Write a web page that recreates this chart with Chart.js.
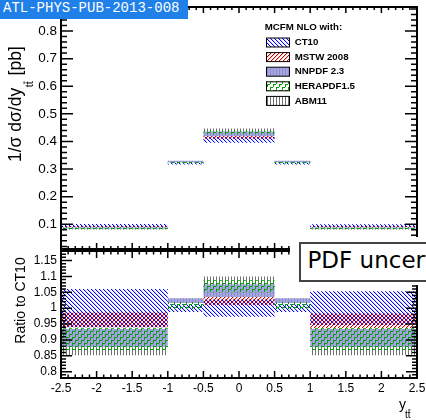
<!DOCTYPE html>
<html>
<head>
<meta charset="utf-8">
<script src="https://cdn.jsdelivr.net/npm/chart.js@4.4.0/dist/chart.umd.min.js"></script>
<style>
body { margin: 0; width: 426px; height: 420px; overflow: hidden; background: #fff; position: relative; }
canvas { position: absolute; left: 0; }
#top { top: 0; }
#ratio { top: 250px; }
#tag { position: absolute; left: 0; top: 0; width: 188px; height: 19px; background: #1f80ea; color: #fff;
       font-family: "Liberation Mono", monospace; font-size: 14px; }
#tag span { position: absolute; left: 3px; top: 1.3px; line-height: 14px; white-space: nowrap; }
#notepad { position: absolute; left: 290px; top: 237px; width: 140px; height: 48px; background: #fff; }
#note { position: absolute; left: 9px; top: 4.5px; width: 300px; height: 33.4px; border: 2px solid #444;
        background: #fff; font-family: "DejaVu Sans", sans-serif; font-size: 23px; line-height: 27px;
        padding: 3.4px 0 0 6.5px; white-space: nowrap; }
</style>
</head>
<body>
<canvas id="top" width="426" height="250"></canvas>
<canvas id="ratio" width="426" height="170"></canvas>
<div id="tag"><span>ATL-PHYS-PUB-2013-008</span></div>
<div id="notepad"><div id="note">PDF uncertainty</div></div>
<script>
// rapidity bins of the ttbar system
let binEdges = [-2.5, -1, -0.5, 0.5, 1, 2.5];
// normalised CT10 cross section per bin
let ct10Xsec = [0.095, 0.32, 0.406, 0.32, 0.095];

// PDF bands as ratio to CT10 (lower / upper edge per bin)
let ct10Lo = [0.94, 0.988, 0.973, 0.988, 0.947];
let ct10Hi = [1.06, 1.012, 1.027, 1.012, 1.053];
let mstwLo = [0.94, 1.018, 1.01, 1.018, 0.937];
let mstwHi = [0.986, 1.029, 1.035, 1.029, 0.983];
let nnpdfLo = [0.878, 1.016, 1.035, 1.016, 0.878];
let nnpdfHi = [0.934, 1.031, 1.075, 1.031, 0.934];
let heraLo = [0.868, 0.997, 1.05, 0.997, 0.868];
let heraHi = [0.937, 1.019, 1.088, 1.019, 0.937];
let abmLo = [0.852, 1.018, 1.04, 1.018, 0.852];
let abmHi = [0.925, 1.03, 1.1, 1.03, 0.925];

let pdfNames = ["CT10", "MSTW 2008", "NNPDF 2.3", "HERAPDF1.5", "ABM11"];

Chart.defaults.font.family = '"Liberation Sans", Arial, sans-serif';
Chart.defaults.color = '#000';

function makePattern(w, h, draw) {
    let c = document.createElement('canvas');
    c.width = w;
    c.height = h;
    let g = c.getContext('2d');
    draw(g);
    return g.createPattern(c, 'repeat');
}

// diagonal hatch, one solid pixel plus a softer neighbour per row
function diagonal(g, colour, soft, down) {
    for (let i = 0; i < 4; i++) {
        let x = down ? i : 3 - i;
        g.fillStyle = colour;
        g.fillRect(x, i, 1, 1);
        g.fillStyle = soft;
        g.fillRect((x + 1) % 4, i, 1, 1);
    }
}

// hatch styles
let ct10Fill = makePattern(4, 4, function(g) { diagonal(g, '#0000ff', 'rgba(0,0,255,0.18)', true); });
let mstwFill = makePattern(4, 4, function(g) { diagonal(g, '#d00000', 'rgba(208,0,0,0.22)', false); });
let nnpdfFill = makePattern(3, 1, function(g) {
    g.fillStyle = '#a6a6df';
    g.fillRect(0, 0, 3, 1);
    g.fillStyle = '#8e8ed4';
    g.fillRect(0, 0, 1, 1);
});
let heraFill = makePattern(6, 6, function(g) {
    g.fillStyle = '#00a000';
    [[0, 3], [3, 0]].forEach(function(p) {
        g.fillRect(p[0], p[1], 3, 1);
        g.fillRect(p[0], p[1], 1, 3);
    });
});
let abmFill = makePattern(3, 1, function(g) {
    g.fillStyle = '#707070';
    g.fillRect(0, 0, 1, 1);
});
let legendFills = [ct10Fill, mstwFill, nnpdfFill, heraFill, abmFill];

function stepPoints(vals) {
    let pts = vals.map(function(v, i) { return {x: binEdges[i], y: v}; });
    pts.push({x: binEdges[binEdges.length - 1], y: vals[vals.length - 1]});
    return pts;
}

// two stepped lines per PDF, the upper one filled down to the lower one
function band(lo, hi, fill, absolute) {
    let f = function(r) {
        return r.map(function(v, i) { return absolute ? v * ct10Xsec[i] : v; });
    };
    let common = {borderWidth: 0, borderColor: 'rgba(0,0,0,0)', pointRadius: 0, stepped: true};
    return [
        Object.assign({data: stepPoints(f(lo)), fill: false}, common),
        Object.assign({data: stepPoints(f(hi)), fill: '-1', backgroundColor: fill}, common)
    ];
}

// first dataset is drawn last, so HERAPDF ends up on top and ABM11 at the bottom
function allBands(absolute) {
    return [].concat(
        band(heraLo, heraHi, heraFill, absolute),
        band(nnpdfLo, nnpdfHi, nnpdfFill, absolute),
        band(mstwLo, mstwHi, mstwFill, absolute),
        band(ct10Lo, ct10Hi, ct10Fill, absolute),
        band(abmLo, abmHi, abmFill, absolute)
    );
}

function makeTicks(scale, step, bigStep) {
    let ticks = [];
    let k0 = Math.ceil(scale.min / step - 1e-9);
    let k1 = Math.floor(scale.max / step + 1e-9);
    for (let k = k0; k <= k1; k++) {
        let v = Math.round(k * step * 1e6) / 1e6;
        let r = v / bigStep;
        ticks.push({value: v, big: Math.abs(r - Math.round(r)) < 1e-6});
    }
    scale.ticks = ticks;
}

function tickLabel(value, index, ticks) {
    return ticks[index].big ? String(+value.toFixed(2)) : '';
}

// ROOT style frame with inward ticks on all four sides
let framePlugin = {
    id: 'frame',
    afterDatasetsDraw: function(chart, args, o) {
        let ctx = chart.ctx;
        let a = chart.chartArea;
        let x = chart.scales.x, y = chart.scales.y;
        ctx.save();
        ctx.strokeStyle = '#000';
        ctx.lineWidth = 1.5;
        ctx.beginPath();
        y.ticks.forEach(function(t) {
            let py = y.getPixelForValue(t.value);
            let len = t.big ? o.yMajor : o.yMinor;
            ctx.moveTo(a.left, py); ctx.lineTo(a.left + len, py);
            ctx.moveTo(a.right, py); ctx.lineTo(a.right - len, py);
        });
        x.ticks.forEach(function(t) {
            let px = x.getPixelForValue(t.value);
            let len = t.big ? o.xMajor : o.xMinor;
            ctx.moveTo(px, a.bottom); ctx.lineTo(px, a.bottom - len);
            ctx.moveTo(px, a.top); ctx.lineTo(px, a.top + len);
        });
        ctx.stroke();
        ctx.lineWidth = 2;
        ctx.strokeRect(a.left, a.top, a.right - a.left, a.bottom - a.top);
        ctx.restore();
    }
};

function drawSubTT(ctx, x, y, size) {
    ctx.font = size + 'px "Liberation Sans"';
    ctx.fillText('tt', x, y);
    let tw = ctx.measureText('t').width;
    ctx.fillRect(x + tw + 0.3, y - size * 0.85, tw - 0.3, Math.max(0.8, size * 0.08));
    return ctx.measureText('tt').width;
}

// y title and legend of the upper panel
let topText = {
    id: 'topText',
    afterDraw: function(chart) {
        let ctx = chart.ctx;
        ctx.save();
        ctx.fillStyle = '#000';
        ctx.translate(21, 162);
        ctx.rotate(-Math.PI / 2);
        ctx.textBaseline = 'alphabetic';
        ctx.font = '17.5px "Liberation Sans"';
        let main = '1/\u03c3 d\u03c3/dy';
        ctx.fillText(main, 0, 0);
        let u = ctx.measureText(main).width + 0.5;
        u += drawSubTT(ctx, u, 12, 11) + 1;
        ctx.font = '17.5px "Liberation Sans"';
        ctx.fillText(' [pb]', u, 0);
        ctx.restore();

        ctx.save();
        ctx.fillStyle = '#000';
        ctx.textBaseline = 'middle';
        ctx.font = 'bold 9.7px "Liberation Sans"';
        ctx.fillText('MCFM NLO with:', 264.7, 27);
        pdfNames.forEach(function(name, i) {
            let cy = 42.5 + i * 14.6;
            ctx.fillStyle = '#fff';
            ctx.fillRect(266, cy - 4.5, 24, 9);
            ctx.fillStyle = legendFills[i];
            ctx.fillRect(266, cy - 4.5, 24, 9);
            ctx.strokeStyle = '#000';
            ctx.lineWidth = 1;
            ctx.strokeRect(266.5, cy - 4.5, 23, 9);
            ctx.fillStyle = '#000';
            ctx.fillText(name, 294.7, cy);
        });
        ctx.restore();
    }
};

// titles of the ratio panel
let ratioText = {
    id: 'ratioText',
    afterDraw: function(chart) {
        let ctx = chart.ctx;
        ctx.save();
        ctx.fillStyle = '#000';
        ctx.translate(25, 50.5);
        ctx.rotate(-Math.PI / 2);
        ctx.textAlign = 'center';
        ctx.font = '14px "Liberation Sans"';
        ctx.fillText('Ratio to CT10', 0, 0);
        ctx.restore();

        ctx.save();
        ctx.fillStyle = '#000';
        ctx.font = '14px "Liberation Sans"';
        ctx.fillText('y', 399, 159);
        drawSubTT(ctx, 405, 168, 10);
        ctx.restore();
    }
};

function xAxis(showLabels, height) {
    return {
        type: 'linear', min: -2.5, max: 2.5,
        grid: {display: false, drawTicks: false},
        border: {display: false},
        afterBuildTicks: function(s) { makeTicks(s, 0.1, 0.5); },
        afterFit: function(s) { s.height = height; s.paddingLeft = 0; s.paddingRight = 0; },
        ticks: {display: showLabels, autoSkip: false, maxRotation: 0, padding: 3,
                font: {size: 12}, callback: tickLabel}
    };
}

function yAxis(min, max, step, bigStep, size) {
    return {
        min: min, max: max,
        grid: {display: false, drawTicks: false},
        border: {display: false},
        afterBuildTicks: function(s) { makeTicks(s, step, bigStep); },
        afterFit: function(s) { s.width = 61; s.paddingTop = 0; s.paddingBottom = 0; },
        ticks: {autoSkip: false, padding: 4, font: {size: size}, callback: tickLabel}
    };
}

let commonOpts = {
    responsive: false,
    animation: false,
    events: [],
    plugins: {legend: {display: false}, tooltip: {enabled: false}}
};

new Chart(document.getElementById('top').getContext('2d'), {
    type: 'line',
    data: {datasets: allBands(true)},
    options: Object.assign({}, commonOpts, {
        layout: {padding: {left: 0, right: 9, top: 7, bottom: 1}},
        scales: {x: xAxis(false, 0), y: yAxis(0.0105, 0.887, 0.02, 0.1, 13.5)},
        plugins: Object.assign({}, commonOpts.plugins, {frame: {yMajor: 12, yMinor: 6, xMajor: 6, xMinor: 3}})
    }),
    plugins: [framePlugin, topText]
});

new Chart(document.getElementById('ratio').getContext('2d'), {
    type: 'line',
    data: {datasets: allBands(false)},
    options: Object.assign({}, commonOpts, {
        layout: {padding: {left: 0, right: 9, top: 1, bottom: 0}},
        scales: {x: xAxis(true, 42), y: yAxis(0.78, 1.18, 0.01, 0.05, 12)},
        plugins: Object.assign({}, commonOpts.plugins, {frame: {yMajor: 11, yMinor: 5, xMajor: 7, xMinor: 3.5}})
    }),
    plugins: [framePlugin, ratioText]
});
</script>
</body>
</html>
